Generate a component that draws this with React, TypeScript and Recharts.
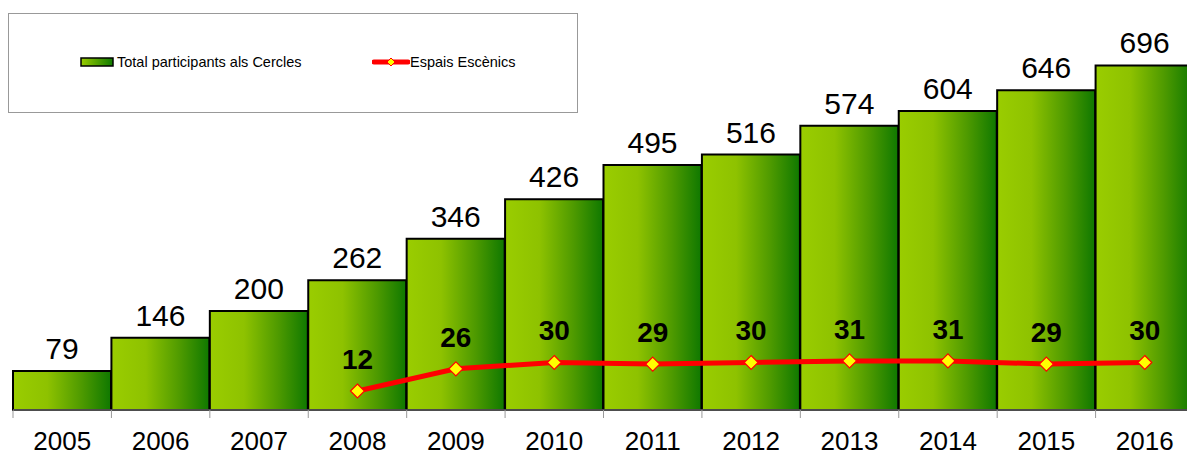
import { ComposedChart, Bar, Line, XAxis, YAxis, Legend, LabelList } from 'recharts';

const years = ['2005', '2006', '2007', '2008', '2009', '2010', '2011', '2012', '2013', '2014', '2015', '2016'];
const totalParticipants = [79, 146, 200, 262, 346, 426, 495, 516, 574, 604, 646, 696];
const espaisEscenics: (number | null)[] = [null, null, null, 12, 26, 30, 29, 30, 31, 31, 29, 30];

const chartData = years.map((year, i) => ({
  year,
  total: totalParticipants[i],
  espais: espaisEscenics[i],
}));

const FONT = '"Liberation Sans", Arial, sans-serif';
const BAND = 98.4;

// diamond marker like the spreadsheet original
function Diamond(props: any) {
  const { cx, cy, index } = props;
  if (cx == null || cy == null || props.value == null) return <g key={`d-${index}`} />;
  const r = 7;
  return (
    <polygon
      key={`d-${index}`}
      points={`${cx},${cy - r} ${cx + r},${cy} ${cx},${cy + r} ${cx - r},${cy}`}
      fill="#FFFF00"
      stroke="#FF0000"
      strokeWidth={1.2}
    />
  );
}

function YearTick(props: any) {
  const { x, y, payload } = props;
  return (
    <g>
      <line x1={x - BAND / 2} y1={y - 8} x2={x - BAND / 2} y2={y} stroke="#999" strokeWidth={1} />
      <text x={x} y={y + 32} textAnchor="middle" fontSize={26} fontFamily={FONT} fill="#000">
        {payload.value}
      </text>
    </g>
  );
}

function LegendBox() {
  return (
    <div style={{
      position: 'absolute',
      left: 8,
      top: 13,
      width: 568,
      height: 98,
      border: '1px solid #999',
      background: '#fff',
      fontFamily: FONT,
      fontSize: 14.5,
      color: '#000',
    }}>
      <div style={{ position: 'absolute', left: 71, top: 40, display: 'flex', alignItems: 'center' }}>
        <svg width={34} height={10}>
          <defs>
            <linearGradient id="legGrad" x1="0" y1="0" x2="1" y2="0">
              <stop offset="0%" stopColor="#99CC00" />
              <stop offset="100%" stopColor="#0F7A00" />
            </linearGradient>
          </defs>
          <rect x={1} y={1} width={32} height={8} fill="url(#legGrad)" stroke="#000" strokeWidth={1.5} />
        </svg>
        <span style={{ marginLeft: 3 }}>Total participants als Cercles</span>
      </div>
      <div style={{ position: 'absolute', left: 363, top: 40, display: 'flex', alignItems: 'center' }}>
        <svg width={38} height={12}>
          <line x1={2} y1={6} x2={36} y2={6} stroke="#FF0000" strokeWidth={5} strokeLinecap="round" />
          <polygon points="19,2 23,6 19,10 15,6" fill="#FFFF00" stroke="#FF0000" strokeWidth={1} />
        </svg>
        <span>Espais Escènics</span>
      </div>
    </div>
  );
}

export default function App() {
  return (
    <div style={{ position: 'absolute', left: 0, top: 0, width: 1187, height: 454, overflow: 'hidden', background: '#fff' }}>
      <ComposedChart
        width={1200}
        height={454}
        data={chartData}
        margin={{ top: 14, right: 6, left: 13, bottom: 0 }}
        barCategoryGap={0}
        barGap={0}
      >
        <defs>
          <linearGradient id="barGrad" x1="0" y1="0" x2="1" y2="0">
            <stop offset="0%" stopColor="#9ACD00" />
            <stop offset="35%" stopColor="#8EC200" />
            <stop offset="70%" stopColor="#4E9A00" />
            <stop offset="100%" stopColor="#0F7800" />
          </linearGradient>
        </defs>
        <XAxis
          dataKey="year"
          height={44}
          axisLine={{ stroke: '#999' }}
          tickLine={false}
          tick={<YearTick />}
          interval={0}
        />
        <YAxis yAxisId="left" hide domain={[0, 800]} />
        <YAxis yAxisId="right" hide domain={[0, 250]} orientation="right" />
        <Legend content={() => <LegendBox />} wrapperStyle={{ position: 'absolute', left: 0, top: 0 }} />
        <Bar
          yAxisId="left"
          dataKey="total"
          name="Total participants als Cercles"
          fill="url(#barGrad)"
          stroke="#000"
          strokeWidth={2}
          isAnimationActive={false}
        >
          <LabelList dataKey="total" position="top" offset={12} fill="#000" fontSize={30} fontFamily={FONT} />
        </Bar>
        <Line
          yAxisId="right"
          type="linear"
          dataKey="espais"
          name="Espais Escènics"
          stroke="#FF0000"
          strokeWidth={5}
          dot={<Diamond />}
          activeDot={false}
          connectNulls={false}
          isAnimationActive={false}
        >
          <LabelList dataKey="espais" position="top" offset={22} fill="#000" fontSize={28} fontWeight="bold" fontFamily={FONT} />
        </Line>
      </ComposedChart>
    </div>
  );
}
